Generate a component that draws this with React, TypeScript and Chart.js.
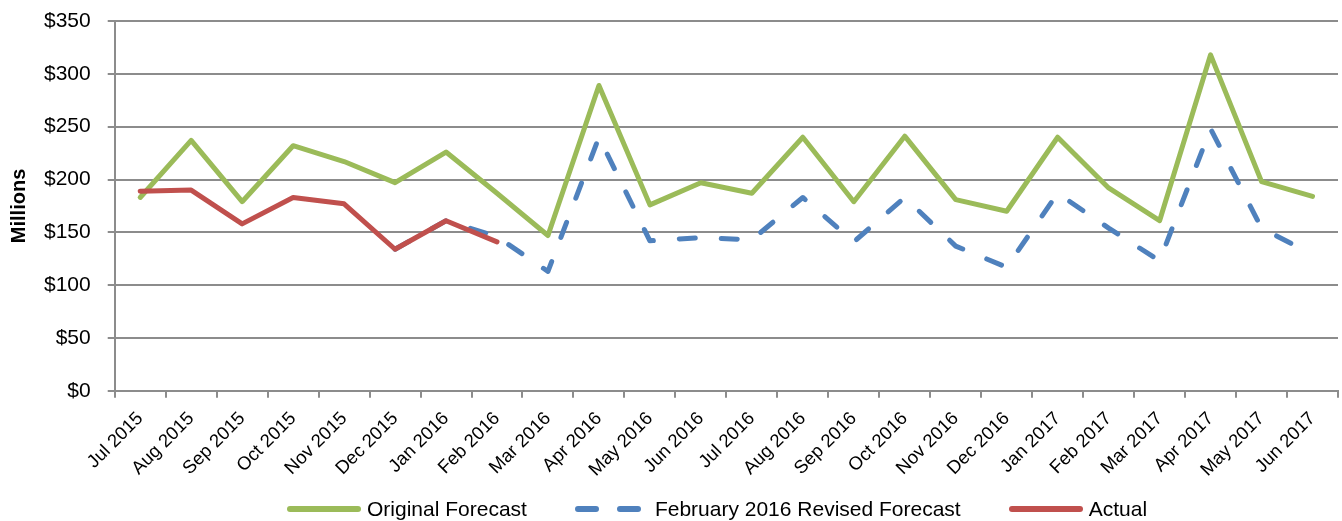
import React, { useEffect, useRef } from "react";
import { Chart, registerables } from "chart.js";

Chart.register(...registerables);

const months = [
  "Jul 2015", "Aug 2015", "Sep 2015", "Oct 2015", "Nov 2015", "Dec 2015",
  "Jan 2016", "Feb 2016", "Mar 2016", "Apr 2016", "May 2016", "Jun 2016",
  "Jul 2016", "Aug 2016", "Sep 2016", "Oct 2016", "Nov 2016", "Dec 2016",
  "Jan 2017", "Feb 2017", "Mar 2017", "Apr 2017", "May 2017", "Jun 2017",
];

const originalForecast = [
  183, 237, 179, 232, 217, 197, 226, 187, 147, 289, 176, 197,
  187, 240, 179, 241, 181, 170, 240, 192, 161, 318, 198, 184,
];

const revisedForecast: (number | null)[] = [
  null, null, null, null, null, 134, 161, 146, 113, 240, 142, 145,
  143, 183, 141, 183, 137, 117, 187, 154, 123, 248, 154, 129,
];

const actual: (number | null)[] = [
  189, 190, 158, 183, 177, 134, 161, 141, null, null, null, null,
  null, null, null, null, null, null, null, null, null, null, null, null,
];

const seriesNames = ["Original Forecast", "February 2016 Revised Forecast", "Actual"];
const GREEN = "#9BBB59";
const BLUE = "#4F81BD";
const RED = "#C0504D";
const GRID = "#8C8C8C";
const FONT = "'Liberation Sans', Arial, sans-serif";

export default function App() {
  const ref = useRef<HTMLCanvasElement | null>(null);

  useEffect(() => {
    if (!ref.current) return;
    const chart = new Chart(ref.current, {
      type: "line",
      data: {
        labels: months,
        datasets: [
          {
            label: seriesNames[2],
            data: actual,
            borderColor: RED,
            backgroundColor: RED,
            borderWidth: 5,
            pointRadius: 0,
            borderCapStyle: "round",
            borderJoinStyle: "round",
            tension: 0,
            order: 0,
          },
          {
            label: seriesNames[1],
            data: revisedForecast,
            borderColor: BLUE,
            backgroundColor: BLUE,
            borderWidth: 5,
            borderDash: [16, 26],
            pointRadius: 0,
            borderCapStyle: "round",
            borderJoinStyle: "round",
            tension: 0,
            order: 1,
          },
          {
            label: seriesNames[0],
            data: originalForecast,
            borderColor: GREEN,
            backgroundColor: GREEN,
            borderWidth: 5,
            pointRadius: 0,
            borderCapStyle: "round",
            borderJoinStyle: "round",
            tension: 0,
            order: 2,
          },
        ],
      },
      options: {
        responsive: false,
        animation: false,
        layout: { padding: { top: 21, right: 4, left: 0, bottom: 30 } },
        plugins: {
          legend: { display: false },
          tooltip: { enabled: false },
        },
        scales: {
          x: {
            offset: true,
            grid: {
              offset: true,
              drawOnChartArea: false,
              drawTicks: true,
              tickLength: 7,
              color: GRID,
              lineWidth: 2,
            },
            border: { display: true, color: GRID, width: 2 },
            ticks: {
              autoSkip: false,
              maxRotation: 45,
              minRotation: 45,
              padding: 10,
              color: "#000",
              font: { family: FONT, size: 18.5 },
            },
          },
          y: {
            min: 0,
            max: 350,
            afterFit: (scale: any) => {
              scale.paddingTop = 0;
              scale.paddingBottom = 0;
            },
            ticks: {
              stepSize: 50,
              padding: 17,
              color: "#000",
              font: { family: FONT, size: 21 },
              callback: (v: any) => "$" + v,
            },
            grid: { color: GRID, lineWidth: 2, tickLength: 7 },
            border: { display: true, color: GRID, width: 2 },
            title: {
              display: true,
              text: "Millions",
              color: "#000",
              font: { family: FONT, size: 20, weight: "bold" },
              padding: { top: 7, bottom: -4 },
            },
          },
        },
      },
    });
    return () => chart.destroy();
  }, []);

  const legendItems = [
    { name: seriesNames[0], color: GREEN, dash: undefined as string | undefined },
    { name: seriesNames[1], color: BLUE, dash: "18 24" },
    { name: seriesNames[2], color: RED, dash: undefined as string | undefined },
  ];

  return (
    <div style={{ position: "absolute", left: 0, top: 0, width: 1342, height: 521, background: "#fff" }}>
      <canvas ref={ref} width={1342} height={521} style={{ display: "block" }} />
      <div
        style={{
          position: "absolute",
          left: 287,
          top: 497,
          display: "flex",
          alignItems: "center",
          gap: 48,
          fontFamily: FONT,
          fontSize: 21,
          color: "#000",
          whiteSpace: "nowrap",
        }}
      >
        {legendItems.map((it) => (
          <div key={it.name} style={{ display: "flex", alignItems: "center", gap: 6 }}>
            <svg width={74} height={10} style={{ display: "block" }}>
              <line
                x1={3}
                y1={5}
                x2={71}
                y2={5}
                stroke={it.color}
                strokeWidth={6}
                strokeLinecap="round"
                strokeDasharray={it.dash}
              />
            </svg>
            <span>{it.name}</span>
          </div>
        ))}
      </div>
    </div>
  );
}
